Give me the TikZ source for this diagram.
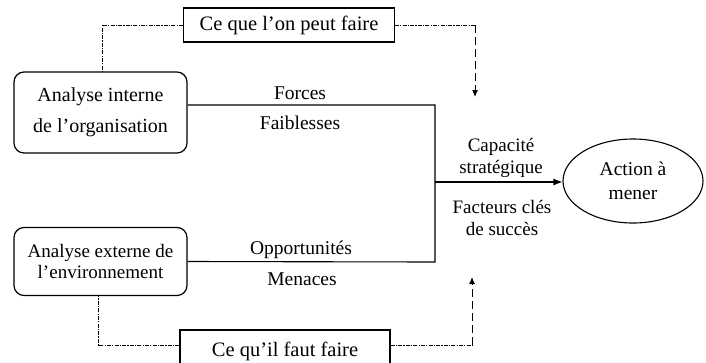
\documentclass[tikz,border=0pt]{standalone}
\usepackage{fontspec}
\setmainfont{Liberation Serif}
\usetikzlibrary{arrows.meta,shapes.geometric}
\begin{document}
\begin{tikzpicture}[x=1pt,y=-1pt,
  font=\fontsize{19.5}{22}\selectfont,
  rbox/.style={draw,line width=1.2pt,rounded corners=10pt,minimum width=173pt,align=center,inner sep=2pt},
  sbox/.style={draw,line width=1.1pt,minimum width=211pt,minimum height=34pt,inner sep=2pt},
  lbl/.style={inner sep=1pt,align=center},
  solidline/.style={line width=1.1pt},
  dd/.style={line width=1pt,dash pattern=on 4pt off 1.2pt on 1.2pt off 1.2pt},
  dsh/.style={line width=1pt,dash pattern=on 8pt off 4pt,-{Latex[length=7pt,width=6pt]}},
  tip/.style={line width=1.1pt,-{Latex[length=9pt,width=7pt]}}]
\useasboundingbox (0,0) rectangle (706,362);

\node[sbox,font=\fontsize{20.5}{24}\selectfont] (top) at (289,25) {Ce que l’on peut faire};
\node[rbox,minimum height=81pt,font=\fontsize{20}{31}\selectfont] (b1) at (100.5,112.5) {Analyse interne\\de l’organisation};
\node[rbox,minimum height=68pt,font=\fontsize{19}{21}\selectfont] (b2) at (100.5,261.5) {Analyse externe de\\l’environnement};
\node[sbox,minimum width=210pt,minimum height=42pt,font=\fontsize{20.5}{24}\selectfont] (bot) at (285,351) {Ce qu’il faut faire};
\node[draw,ellipse,line width=1.1pt,minimum width=140pt,minimum height=84pt,align=center,inner sep=0pt,font=\fontsize{19.5}{24}\selectfont] (act) at (633,181) {Action à\\mener};

\node[lbl] (f1) at (300,93) {Forces};
\node[lbl] (f2) at (300,123) {Faiblesses};
\node[lbl] (o1) at (301,250) {Opportunités};
\node[lbl] (o2) at (302,279) {Menaces};
\node[lbl,font=\fontsize{19}{22}\selectfont] (cs) at (501,158) {Capacité\\stratégique};
\node[lbl,font=\fontsize{19}{22}\selectfont] (fc) at (502,218) {Facteurs clés\\de succès};

\coordinate (jt) at (435,105);
\coordinate (jb) at (435,262);
\coordinate (jm) at (435,182);
\draw[solidline] ([yshift=7.5pt]b1.east) -- (jt) -- (jb) -- (b2.east);
\draw[tip] (jm) -- (act.west |- jm);

\coordinate (t1) at (475,25);
\coordinate (t2) at (475,97);
\draw[dd] (top.west) -| ([xshift=1.5pt]b1.north);
\draw[dd] (top.east) -- (t1);
\draw[dsh] (t1) -- (t2);

\coordinate (u1) at (472,345);
\coordinate (u2) at (472,277);
\draw[dd] (bot.west |- u1) -| ([xshift=-2.5pt]b2.south);
\draw[dd] (bot.east |- u1) -- (u1);
\draw[dsh] (u1) -- (u2);
\end{tikzpicture}
\end{document}
